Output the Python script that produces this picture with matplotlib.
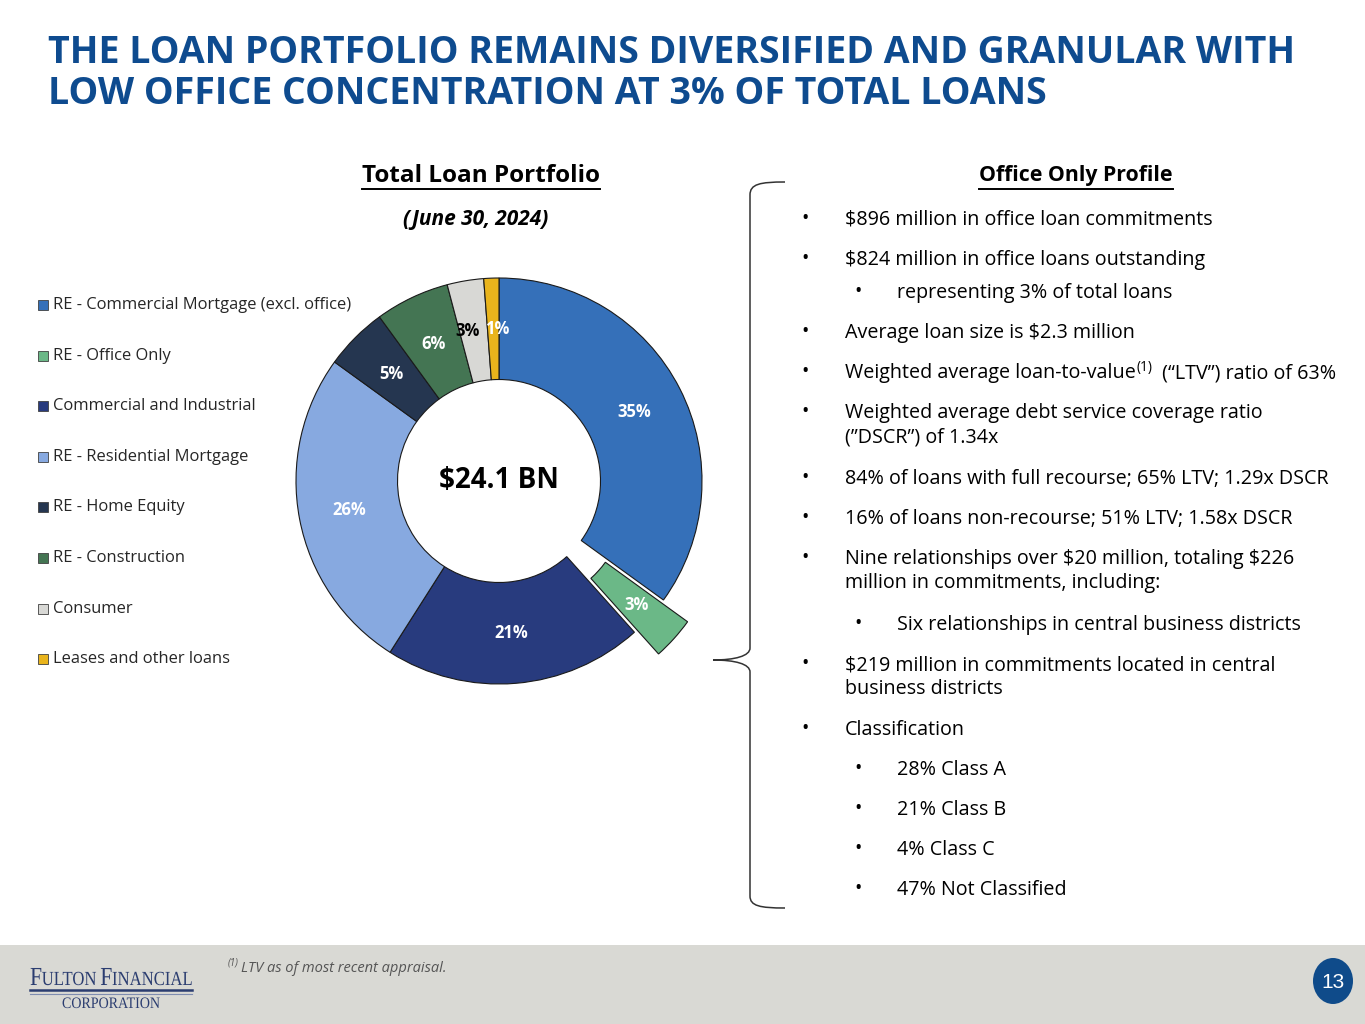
import matplotlib
matplotlib.use("Agg")
import matplotlib.pyplot as plt
from matplotlib.patches import Rectangle, Ellipse, PathPatch
from matplotlib.path import Path
from matplotlib.textpath import TextPath
from matplotlib.font_manager import FontProperties
from matplotlib.transforms import Affine2D

plt.rcParams['font.family'] = ['Open Sans', 'DejaVu Sans']
plt.rcParams['text.parse_math'] = False

# data
categories = ['RE - Commercial Mortgage (excl. office)', 'RE - Office Only',
              'Commercial and Industrial', 'RE - Residential Mortgage',
              'RE - Home Equity', 'RE - Construction', 'Consumer',
              'Leases and other loans']
shares = [34.9, 3.4, 20.6, 25.9, 5.0, 5.9, 2.9, 1.2]
colors = ['#3570B9', '#6BB887', '#283B7E', '#87A9E0', '#253650',
          '#447553', '#D8D8D5', '#E9B41C']
label_colors = ['white', 'white', 'white', 'white', 'white', 'white', 'black', 'white']
total_label = '$24.1 BN'

title_lines = ['THE LOAN PORTFOLIO REMAINS DIVERSIFIED AND GRANULAR WITH',
               'LOW OFFICE CONCENTRATION AT 3% OF TOTAL LOANS']

# (level, list of lines); a line is a list of (text, superscript?) pieces
profile = [
    (1, [[('$896 million in office loan commitments', False)]]),
    (1, [[('$824 million in office loans outstanding', False)]]),
    (2, [[('representing 3% of total loans', False)]]),
    (1, [[('Average loan size is $2.3 million', False)]]),
    (1, [[('Weighted average loan-to-value', False), ('(1)', True),
          (' (\u201cLTV\u201d) ratio of 63%', False)]]),
    (1, [[('Weighted average debt service coverage ratio', False)],
         [('(\u201dDSCR\u201d) of 1.34x', False)]]),
    (1, [[('84% of loans with full recourse; 65% LTV; 1.29x DSCR', False)]]),
    (1, [[('16% of loans non-recourse; 51% LTV; 1.58x DSCR', False)]]),
    (1, [[('Nine relationships over $20 million, totaling $226', False)],
         [('million in commitments, including:', False)]]),
    (2, [[('Six relationships in central business districts', False)]]),
    (1, [[('$219 million in commitments located in central', False)],
         [('business districts', False)]]),
    (1, [[('Classification', False)]]),
    (2, [[('28% Class A', False)]]),
    (2, [[('21% Class B', False)]]),
    (2, [[('4% Class C', False)]]),
    (2, [[('47% Not Classified', False)]]),
]
profile_y = [218, 258, 291, 331, 371, 411, 477, 517, 557, 623, 663, 728, 768, 808, 848, 888]

W, H = 1365, 1024
fig = plt.figure(figsize=(W / 100, H / 100), dpi=100)
fig.patch.set_facecolor('white')

# background axes in pixel coordinates
bg = fig.add_axes([0, 0, 1, 1])
bg.set_xlim(0, W)
bg.set_ylim(H, 0)
bg.axis('off')

renderer = fig.canvas.get_renderer()


def width_of(t):
    return t.get_window_extent(renderer=renderer).width


# title
for i, line in enumerate(title_lines):
    bg.text(48, 53 + i * 41, line, fontsize=27, fontweight='bold',
            color='#0E4B8F', va='center', ha='left')

# headings with underline
def heading(x, y, s, fs):
    t = bg.text(x, y, s, fontsize=fs, fontweight='bold', color='black',
                ha='center', va='center')
    w = width_of(t)
    bg.plot([x - w / 2, x + w / 2], [y + 13, y + 13], color='black', lw=1.4)

heading(481, 176, 'Total Loan Portfolio', 17.5)
heading(1076, 176, 'Office Only Profile', 15.3)
bg.text(476, 219, '(June 30, 2024)', fontsize=15, fontweight='bold',
        style='italic', ha='center', va='center')

# legend
for i, (cat, col) in enumerate(zip(categories, colors)):
    y = 305 + i * 50.6
    bg.add_patch(Rectangle((38, y - 5), 10, 10, facecolor=col,
                           edgecolor='#404040', lw=0.6))
    bg.text(53, y, cat, fontsize=11.9, color='#262626', va='center', ha='left')

# donut
R = 203.0
cx, cy = 499, 481
ax = fig.add_axes([(cx - 1.25 * R) / W, (H - cy - 1.25 * R) / H,
                   2.5 * R / W, 2.5 * R / H])
explode = [0.16 if c == 'RE - Office Only' else 0 for c in categories]
wedges, texts, autotexts = ax.pie(
    shares, colors=colors, startangle=90, counterclock=False, explode=explode,
    radius=1, autopct=lambda p: '%d%%' % round(p), pctdistance=0.75,
    wedgeprops=dict(width=0.5, edgecolor='#1a1a1a', linewidth=0.8),
    textprops=dict(fontsize=12, fontweight='bold'))
for t, c in zip(autotexts, label_colors):
    t.set_color(c)
# the two thin top slices have touching labels; nudge them apart a little
cx6, cy6 = autotexts[6].get_position()
autotexts[6].set_position((cx6 - 0.03, cy6))
cx7, cy7 = autotexts[7].get_position()
autotexts[7].set_position((cx7 + 0.02, cy7))
ax.set_xlim(-1.25, 1.25)
ax.set_ylim(-1.25, 1.25)
ax.set_aspect('equal')
ax.axis('off')
ax.text(0, 0, total_label, fontsize=20, fontweight='bold', ha='center', va='center')

# bracket
verts = [(785, 182), (760, 182), (750, 184), (750, 195),
         (750, 648),
         (750, 656), (735, 660), (713, 660),
         (735, 660), (750, 664), (750, 672),
         (750, 896),
         (750, 906), (760, 908), (785, 908)]
codes = [Path.MOVETO, Path.CURVE4, Path.CURVE4, Path.CURVE4,
         Path.LINETO,
         Path.CURVE4, Path.CURVE4, Path.CURVE4,
         Path.CURVE4, Path.CURVE4, Path.CURVE4,
         Path.LINETO,
         Path.CURVE4, Path.CURVE4, Path.CURVE4]
bg.add_patch(PathPatch(Path(verts, codes), facecolor='none', edgecolor='#333333', lw=1.1))

# profile bullets
body_fs = 14.2
for (level, lines), y in zip(profile, profile_y):
    bx = 805 if level == 1 else 858
    tx = 845 if level == 1 else 897
    bg.text(bx, y + 1, '\u2022', fontsize=body_fs, ha='center', va='center', color='black')
    for j, pieces in enumerate(lines):
        x = tx
        yy = y + 2 + j * 24
        for s, sup in pieces:
            if sup:
                t = bg.text(x + 1, yy - 6, s, fontsize=body_fs * 0.7, va='center', ha='left')
            else:
                t = bg.text(x, yy, s, fontsize=body_fs, va='center', ha='left')
            x += width_of(t) + (5 if sup else 0)

# footer
bg.add_patch(Rectangle((0, 945), W, 79, facecolor='#D9D9D4', edgecolor='none'))


def squeezed_text(pieces, x0, baseline, width, color):
    """draw serif pieces (text, size) as paths, squeezed to a given width"""
    fp = FontProperties(family='Liberation Serif')
    paths, x = [], 0
    for s, size in pieces:
        tp = TextPath((x, 0), s, size=size, prop=fp)
        paths.append(tp)
        ext = tp.get_extents()
        x = ext.x1 + (size * 0.25 if s.endswith(' ') else size * 0.02)
    sx = width / x
    tr = Affine2D().scale(sx, -1).translate(x0, baseline) + bg.transData
    for tp in paths:
        bg.add_patch(PathPatch(tp, transform=tr, facecolor=color, edgecolor='none'))


navy = '#2B3D70'
squeezed_text([('F', 26), ('ULTON ', 20), ('F', 26), ('INANCIAL', 20)],
              30, 985, 162, navy)
bg.plot([30, 192], [990, 990], color=navy, lw=1.8)
bg.plot([30, 192], [993.5, 993.5], color='#7F8DB0', lw=0.8)
squeezed_text([('CORPORATION', 16)], 62, 1008, 98, navy)

t = bg.text(228, 963, '(1)', fontsize=7, style='italic', color='#555555',
            va='center', ha='left')
bg.text(228 + width_of(t) + 2, 968, 'LTV as of most recent appraisal.', fontsize=10.5,
        style='italic', color='#555555', va='center', ha='left')
bg.add_patch(Ellipse((1333, 981), 40, 46, facecolor='#0F4B8A', edgecolor='none'))
bg.text(1333, 982, '13', fontsize=15, color='white', ha='center', va='center',
        family='Liberation Sans')

fig.savefig('out.png', dpi=100)
